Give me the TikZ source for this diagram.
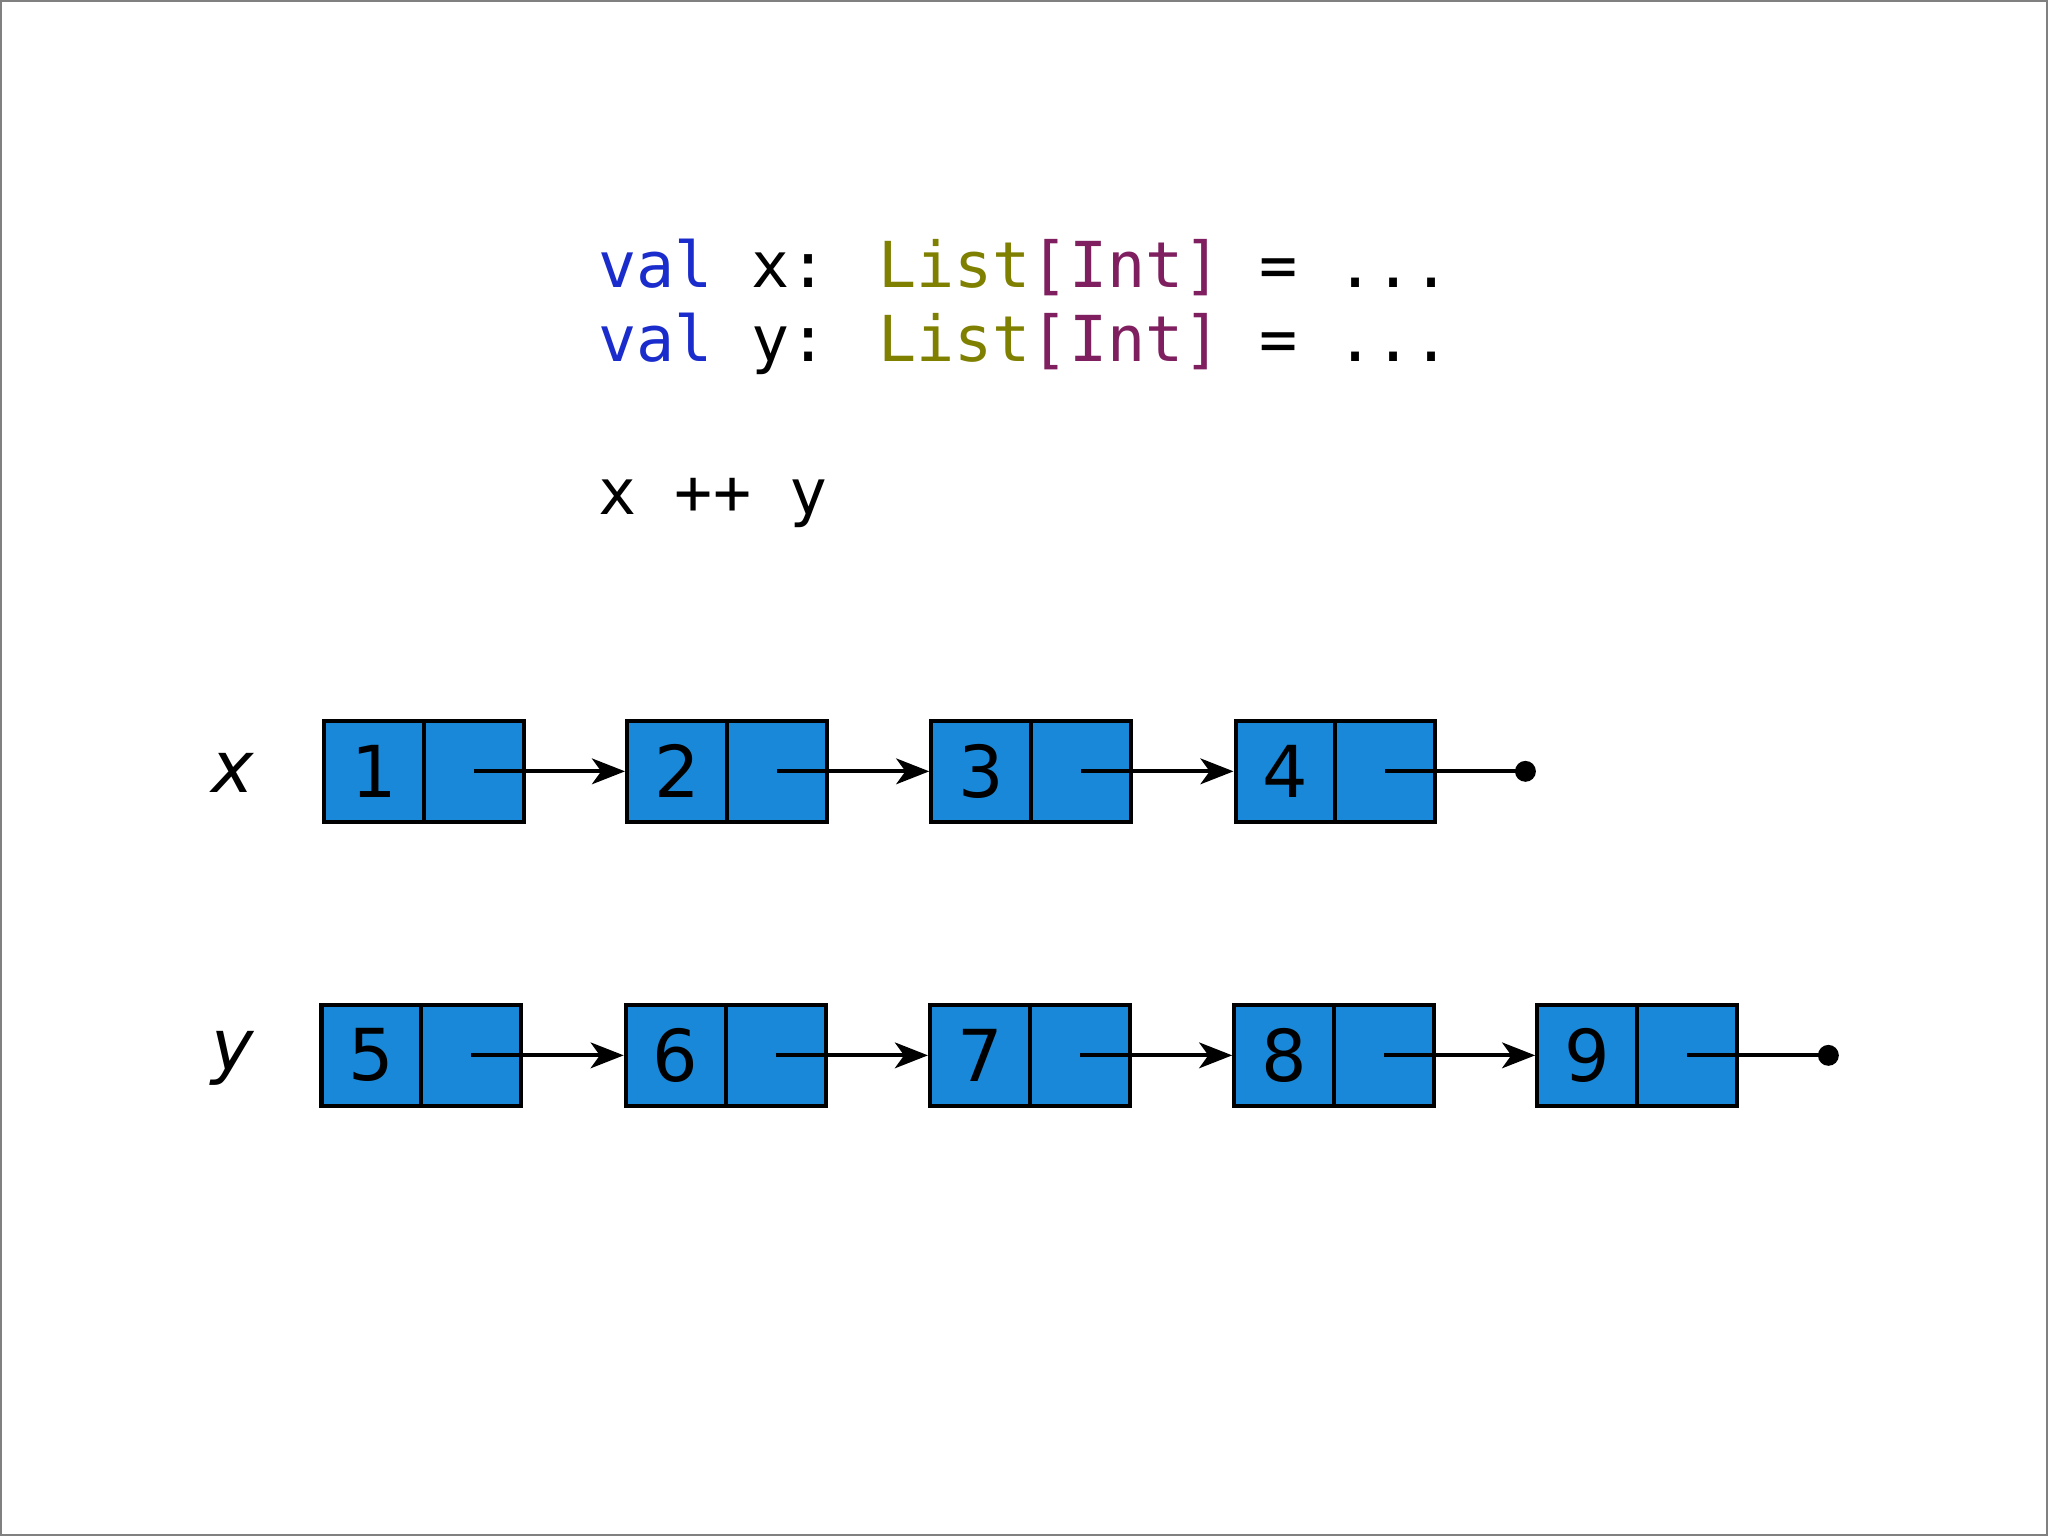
\documentclass[tikz,border=0pt]{standalone}
\usepackage{fontspec}
\setmainfont{DejaVu Sans}
\newfontfamily\codefont{DejaVu Sans Mono}
\usetikzlibrary{arrows.meta}
\definecolor{cellblue}{HTML}{1A88D8}
\definecolor{kw}{HTML}{1A2CCC}
\definecolor{ty}{HTML}{7F7F00}
\definecolor{br}{HTML}{7F1F5F}
\begin{document}
\begin{tikzpicture}[x=0.025cm,y=-0.025cm,
  cell/.style={draw=black,line width=2.2pt,fill=cellblue,minimum width=76.5*0.025cm,minimum height=77*0.025cm,inner sep=0pt,font=\fontsize{39}{40}\selectfont},
  code/.style={anchor=base west,inner sep=0pt,font=\codefont\fontsize{34.5}{36}\selectfont},
  lbl/.style={font=\itshape\fontsize{39}{40}\selectfont},
  link/.style={line width=2.2pt,-{Stealth[length=18pt,width=14pt,inset=5pt]}},
  nil/.style={line width=2.2pt}]
\fill[white] (0,0) rectangle (1568,1176);
\draw[gray,line width=1pt] (0.5,0.5) rectangle (1567.5,1175.5);
\node[code] (l1) at (458,220) {\textcolor{kw}{val} x: \textcolor{ty}{List}\textcolor{br}{[Int]} = ...};
\node[code] (l2) at (458,277) {\textcolor{kw}{val} y: \textcolor{ty}{List}\textcolor{br}{[Int]} = ...};
\node[code] (l3) at (458,394) {x ++ y};
\node[lbl] (lx) at (178,592) {x};
\node[lbl] (ly) at (178,810) {y};
% x list
\foreach \i/\x/\v in {1/248/1,2/480/2,3/713/3,4/946/4}{
  \node[cell] (xa\i) at (\x+38.25,590.5) {\v};
  \node[cell] (xb\i) at (\x+114.75,590.5) {};
}
\foreach \i/\j in {1/2,2/3,3/4}{
  \draw[link] (xb\i.center) -- (xa\j.west);
}
\coordinate (xe) at (1168,590.5);
\draw[nil] (xb4.center) -- (xe);
\fill (xe) circle (8);
% y list
\foreach \i/\x/\v in {1/246/5,2/479/6,3/712/7,4/945/8,5/1177/9}{
  \node[cell] (ya\i) at (\x+38.25,808) {\v};
  \node[cell] (yb\i) at (\x+114.75,808) {};
}
\foreach \i/\j in {1/2,2/3,3/4,4/5}{
  \draw[link] (yb\i.center) -- (ya\j.west);
}
\coordinate (ye) at (1400,808);
\draw[nil] (yb5.center) -- (ye);
\fill (ye) circle (8);
\useasboundingbox (0,0) rectangle (1568,1176);
\end{tikzpicture}
\end{document}
